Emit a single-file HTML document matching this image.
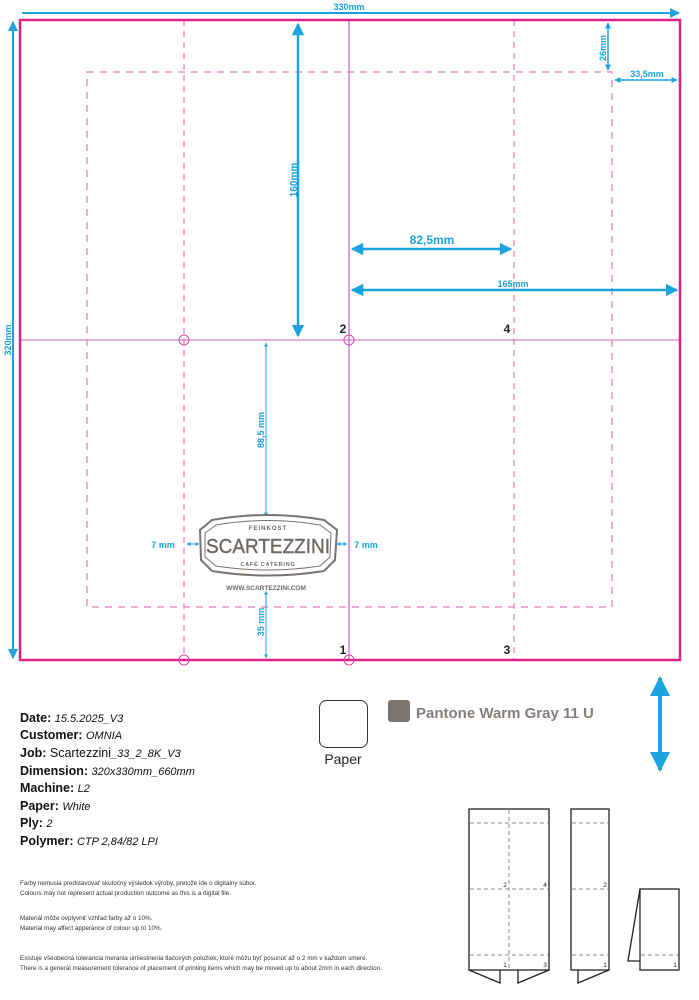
<!DOCTYPE html>
<html><head><meta charset="utf-8"><style>
html,body{margin:0;padding:0;background:#fff;}
svg{display:block;}
text{font-family:"Liberation Sans","DejaVu Sans",sans-serif;}
</style></head><body>
<svg width="699" height="1000" viewBox="0 0 699 1000" xmlns="http://www.w3.org/2000/svg">
<defs>
<marker id="a" viewBox="0 0 10 10" refX="9" refY="5" markerWidth="5" markerHeight="5" orient="auto-start-reverse"><path d="M0,0 L10,5 L0,10 z" fill="#1aa3df"/></marker>
<marker id="b" viewBox="0 0 10 10" refX="9" refY="5" markerWidth="4" markerHeight="4" orient="auto-start-reverse"><path d="M0,0 L10,5 L0,10 z" fill="#1aa3df"/></marker>
</defs>
<line x1="20" y1="340" x2="680" y2="340" stroke="#d860b8" stroke-width="1"/>
<line x1="349" y1="20" x2="349" y2="660" stroke="#b040c0" stroke-width="1"/>
<line x1="184" y1="20" x2="184" y2="660" stroke="#e060a8" stroke-width="1" stroke-dasharray="6,5"/>
<line x1="514" y1="20" x2="514" y2="660" stroke="#e060a8" stroke-width="1" stroke-dasharray="6,5"/>
<rect x="87" y="72" width="525" height="535" fill="none" stroke="#e890c8" stroke-width="1.5" stroke-dasharray="7,6"/>
<rect x="20" y="20" width="660" height="640" fill="none" stroke="#e0208a" stroke-width="2.5"/>
<g fill="none" stroke="#d84aa8" stroke-width="1">
<circle cx="184" cy="340" r="5"/><circle cx="349" cy="340" r="5"/><circle cx="184" cy="660" r="5"/><circle cx="349" cy="660" r="5"/>
</g>
<g stroke="#1aa3df" fill="none">
<line x1="22" y1="13" x2="679" y2="13" stroke-width="2" marker-end="url(#a)"/>
<line x1="13" y1="22" x2="13" y2="658" stroke-width="2" marker-start="url(#a)" marker-end="url(#a)"/>
<line x1="298" y1="24" x2="298" y2="336" stroke-width="2.5" marker-start="url(#a)" marker-end="url(#a)"/>
<line x1="352" y1="249" x2="511" y2="249" stroke-width="2.5" marker-start="url(#a)" marker-end="url(#a)"/>
<line x1="352" y1="290" x2="677" y2="290" stroke-width="2.5" marker-start="url(#a)" marker-end="url(#a)"/>
<line x1="608" y1="23" x2="608" y2="70" stroke-width="1.5" marker-start="url(#b)" marker-end="url(#b)"/>
<line x1="615" y1="80" x2="677" y2="80" stroke-width="1.5" marker-start="url(#b)" marker-end="url(#b)"/>
<line x1="266" y1="343" x2="266" y2="516" stroke-width="1" marker-start="url(#b)" marker-end="url(#b)"/>
<line x1="266" y1="591" x2="266" y2="658" stroke-width="1" marker-start="url(#b)" marker-end="url(#b)"/>
<line x1="187" y1="544" x2="199" y2="544" stroke-width="1" marker-start="url(#b)" marker-end="url(#b)"/>
<line x1="337" y1="544" x2="347" y2="544" stroke-width="1" marker-start="url(#b)" marker-end="url(#b)"/>
<line x1="660" y1="678" x2="660" y2="770" stroke-width="4" marker-start="url(#a)" marker-end="url(#a)"/>
</g>
<g fill="#1aa3df" font-weight="bold">
<text x="349" y="10" font-size="9" text-anchor="middle">330mm</text>
<text transform="translate(11,340) rotate(-90)" font-size="9" text-anchor="middle">320mm</text>
<text transform="translate(297,180) rotate(-90)" font-size="10" text-anchor="middle">160mm</text>
<text x="432" y="244" font-size="12" text-anchor="middle">82,5mm</text>
<text x="513" y="287" font-size="9" text-anchor="middle">165mm</text>
<text transform="translate(606,48) rotate(-90)" font-size="9" text-anchor="middle">26mm</text>
<text x="647" y="77" font-size="9" text-anchor="middle">33,5mm</text>
<text transform="translate(264,430) rotate(-90)" font-size="9" text-anchor="middle">88,5 mm</text>
<text transform="translate(264,622) rotate(-90)" font-size="9" text-anchor="middle">35 mm</text>
<text x="163" y="548" font-size="9" text-anchor="middle">7 mm</text>
<text x="366" y="548" font-size="9" text-anchor="middle">7 mm</text>
</g>
<g font-weight="bold" font-size="12" fill="#222" text-anchor="middle">
<text x="343" y="333">2</text><text x="507" y="333">4</text>
<text x="343" y="654">1</text><text x="507" y="654">3</text>
</g>
<path d="M212,520 Q268,510 324,520 L337,530 L335,560 L324,571 Q268,580 212,571 L201,560 L200,530 Z" fill="#fff" stroke="#7a726e" stroke-width="2"/>
<path d="M216,525 Q268,516 320,525 L331,533 L330,557 L320,566 Q268,574 216,566 L205,557 L205,533 Z" fill="none" stroke="#7a726e" stroke-width="1"/>
<text x="268" y="530" font-size="6" fill="#6f6864" text-anchor="middle" font-weight="bold" letter-spacing="1">FEINKOST</text>
<text x="268" y="553" font-size="20" fill="#6f6864" stroke="#6f6864" stroke-width="0.4" text-anchor="middle" textLength="124" lengthAdjust="spacingAndGlyphs">SCARTEZZINI</text>
<text x="268" y="566" font-size="5.5" fill="#6f6864" text-anchor="middle" font-weight="bold" letter-spacing="0.8">CAFÉ CATERING</text>
<text x="266" y="590" font-size="6.5" fill="#6f6864" text-anchor="middle" font-weight="bold">WWW.SCARTEZZINI.COM</text>
<g font-size="12.5" fill="#111">
<text x="20" y="722"><tspan font-weight="bold">Date:</tspan> <tspan font-style="italic" font-size="11">15.5.2025_V3</tspan></text>
<text x="20" y="739"><tspan font-weight="bold">Customer:</tspan> <tspan font-style="italic" font-size="11">OMNIA</tspan></text>
<text x="20" y="757"><tspan font-weight="bold">Job:</tspan> Scartezzini<tspan font-style="italic" font-size="11">_33_2_8K_V3</tspan></text>
<text x="20" y="775"><tspan font-weight="bold">Dimension:</tspan> <tspan font-style="italic" font-size="11">320x330mm_660mm</tspan></text>
<text x="20" y="792"><tspan font-weight="bold">Machine:</tspan> <tspan font-style="italic" font-size="11">L2</tspan></text>
<text x="20" y="810"><tspan font-weight="bold">Paper:</tspan> <tspan font-style="italic" font-size="11">White</tspan></text>
<text x="20" y="827"><tspan font-weight="bold">Ply:</tspan> <tspan font-style="italic" font-size="11">2</tspan></text>
<text x="20" y="845"><tspan font-weight="bold">Polymer:</tspan> <tspan font-style="italic" font-size="11">CTP 2,84/82 LPI</tspan></text>
</g>
<g font-size="6.3" fill="#333">
<text x="20" y="885">Farby nemusia predstavovať skutočný výsledok výroby, pretože ide o digitálny súbor.</text>
<text x="20" y="895">Colours may not represent actual production outcome as this is a digital file.</text>
<text x="20" y="920">Materiál môže ovplyvniť vzhľad farby až o 10%.</text>
<text x="20" y="930">Material may affect apperance of colour up to 10%.</text>
<text x="20" y="960">Existuje všeobecná tolerancia merania umiestnenia tlačových položiek, ktoré môžu byť posunúť až o 2 mm v každom smere.</text>
<text x="20" y="970">There is a general measurement tolerance of placement of printing items which may be moved up to about 2mm in each direction.</text>
</g>
<rect x="319.5" y="700.5" width="48" height="47" rx="7" fill="#fff" stroke="#333" stroke-width="1"/>
<text x="343" y="764" font-size="14" fill="#222" text-anchor="middle">Paper</text>
<rect x="388" y="700" width="22" height="22" rx="3" fill="#7d7470"/>
<text x="416" y="718" font-size="15" font-weight="bold" fill="#857d79">Pantone Warm Gray 11 U</text>
<g fill="none" stroke="#222" stroke-width="1.3">
<rect x="469" y="809" width="80" height="161"/>
<polyline points="469,970 500,983 500,970"/>
<polyline points="518,970 518,983 549,970"/>
<rect x="571" y="809" width="38" height="161"/>
<polyline points="578,970 578,983 609,970"/>
<rect x="640" y="889" width="39" height="81"/>
<polyline points="640,889 628,961 640,961"/>
</g>
<g stroke="#888" stroke-width="1" stroke-dasharray="4,3">
<line x1="470" y1="823" x2="548" y2="823"/><line x1="470" y1="889" x2="548" y2="889"/><line x1="470" y1="955" x2="548" y2="955"/>
<line x1="509" y1="810" x2="509" y2="970"/>
<line x1="572" y1="823" x2="608" y2="823"/><line x1="572" y1="889" x2="608" y2="889"/><line x1="572" y1="955" x2="608" y2="955"/>
<line x1="641" y1="955" x2="678" y2="955"/>
</g>
<g font-size="6.5" fill="#222" text-anchor="middle">
<text x="505" y="887">2</text><text x="545" y="887">4</text>
<text x="505" y="967">1</text><text x="545" y="967">3</text>
<text x="605" y="887">2</text><text x="605" y="967">1</text>
<text x="675" y="967">1</text>
</g>
</svg>
</body></html>
